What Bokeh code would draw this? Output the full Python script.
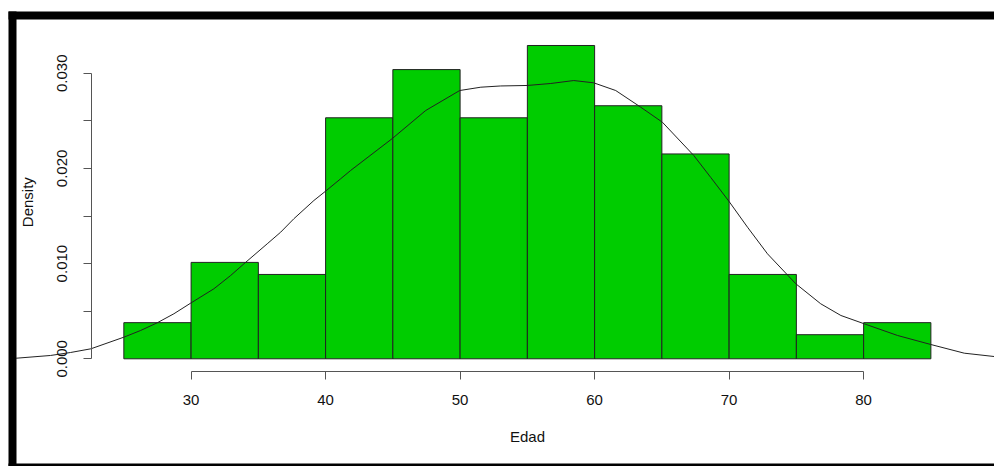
import math
import numpy as np
from bokeh.plotting import figure
from bokeh.models import (Range1d, FixedTicker, CustomJSTickFormatter,
                          BoxAnnotation, LinearAxis, Label)
from bokeh.embed import file_html
from bokeh.resources import INLINE

# Ages (Edad): histogram bin edges and counts per bin
edad_bins = [25, 30, 35, 40, 45, 50, 55, 60, 65, 70, 75, 80, 85]
edad_counts = [3, 8, 7, 20, 24, 20, 26, 21, 17, 7, 2, 3]

# Kernel density estimate of the same ages
kde_x = [16.9, 17.02, 19.54, 21.03, 22.55, 25.0, 26.24, 27.48, 28.72, 29.96,
         31.69, 32.94, 33.93, 35.66, 36.66, 37.64, 39.13, 40.0, 41.12, 41.86,
         44.96, 47.44, 49.97, 51.54, 53.02, 54.99, 56.74, 58.45, 59.93, 61.57,
         63.43, 65.04, 67.37, 68.64, 70.0, 71.37, 72.85, 74.96, 76.81, 78.31,
         80.04, 82.52, 85.0, 87.48, 89.71, 89.9]
kde_y = [0.00004, 0.000063, 0.000347, 0.00066, 0.00105, 0.00227, 0.00297,
         0.00378, 0.00473, 0.00584, 0.00735, 0.00875, 0.00998, 0.01208,
         0.0133, 0.01471, 0.01663, 0.01761, 0.01891, 0.01978, 0.02314,
         0.02608, 0.02818, 0.02853, 0.02866, 0.02871, 0.02892, 0.02923,
         0.02899, 0.02818, 0.02643, 0.02485, 0.02136, 0.01904, 0.01652,
         0.01382, 0.01103, 0.00788, 0.00578, 0.00455, 0.00368, 0.00245,
         0.00150, 0.00059, 0.00024, 0.00022]

x_ticks = [30, 40, 50, 60, 70, 80]
y_ticks = [0.0, 0.005, 0.010, 0.015, 0.020, 0.025, 0.030]

# densities of the histogram bars
edges = np.array(edad_bins, dtype=float)
counts = np.array(edad_counts, dtype=float)
width = np.diff(edges)
density = counts / (counts.sum() * width)

# R-style plot region: data range padded by 4% on every side
x_lo = edges[0] - 0.04 * (edges[-1] - edges[0])
y_lo = -0.04 * density.max()
y_hi = density.max() + 0.04 * density.max()

FONT = "Liberation Sans"
AXIS_COLOR = "#555555"
TEXT_COLOR = "#111111"

p = figure(width=994, height=466, output_backend="svg", toolbar_location=None,
           x_range=Range1d(15.83, 89.73), y_range=Range1d(-0.011313, 0.037637),
           x_axis_type=None, y_axis_type=None, min_border=0)
p.min_border_left = p.min_border_right = 0
p.min_border_top = p.min_border_bottom = 0
p.outline_line_color = None
p.background_fill_color = "white"
p.border_fill_color = "white"

# histogram bars
p.quad(left=edges[:-1], right=edges[1:], bottom=0, top=density,
       fill_color="#00CC00", line_color="#222222", line_width=1)

# density curve
p.line(kde_x, kde_y, line_color="#222222", line_width=1)


def style_axis(ax):
    ax.axis_line_color = AXIS_COLOR
    ax.axis_line_width = 1
    ax.major_tick_line_color = AXIS_COLOR
    ax.major_tick_out = 8
    ax.major_tick_in = 0
    ax.minor_tick_out = 0
    ax.minor_tick_in = 0
    ax.major_label_text_font = FONT
    ax.major_label_text_font_size = "15px"
    ax.major_label_text_color = TEXT_COLOR
    ax.axis_label_text_font = FONT
    ax.axis_label_text_font_size = "15px"
    ax.axis_label_text_font_style = "normal"
    ax.axis_label_text_color = TEXT_COLOR


xaxis = LinearAxis(fixed_location=y_lo, bounds=(30, 80),
                   ticker=FixedTicker(ticks=x_ticks), axis_label="Edad")
style_axis(xaxis)
xaxis.major_label_standoff = 16
xaxis.axis_label_standoff = 19
p.add_layout(xaxis, "below")

yaxis = LinearAxis(fixed_location=x_lo, bounds=(0, 0.030),
                   ticker=FixedTicker(ticks=y_ticks),
                   formatter=CustomJSTickFormatter(
                       code="return Math.round(tick * 1000) % 10 === 0 ? tick.toFixed(3) : '';"))
style_axis(yaxis)
yaxis.major_label_orientation = "vertical"
yaxis.major_label_standoff = 17
p.add_layout(yaxis, "left")

# y title, centred on the plot region
p.add_layout(Label(x=27, x_units="canvas", y=(y_lo + y_hi) / 2, text="Density",
                   angle=math.pi / 2, text_align="center", text_baseline="middle",
                   text_font=FONT, text_font_size="15px", text_color=TEXT_COLOR))

# black window frame around the chart
for l, r, t, b in [(8, 16, 11, 466), (8, 994, 11, 19), (8, 994, 463, 466)]:
    p.add_layout(BoxAnnotation(left=l, right=r, top=t, bottom=b,
                               left_units="canvas", right_units="canvas",
                               top_units="canvas", bottom_units="canvas",
                               fill_color="black", fill_alpha=1.0,
                               line_color=None))

open("out.html", "w").write(file_html(p, INLINE))
